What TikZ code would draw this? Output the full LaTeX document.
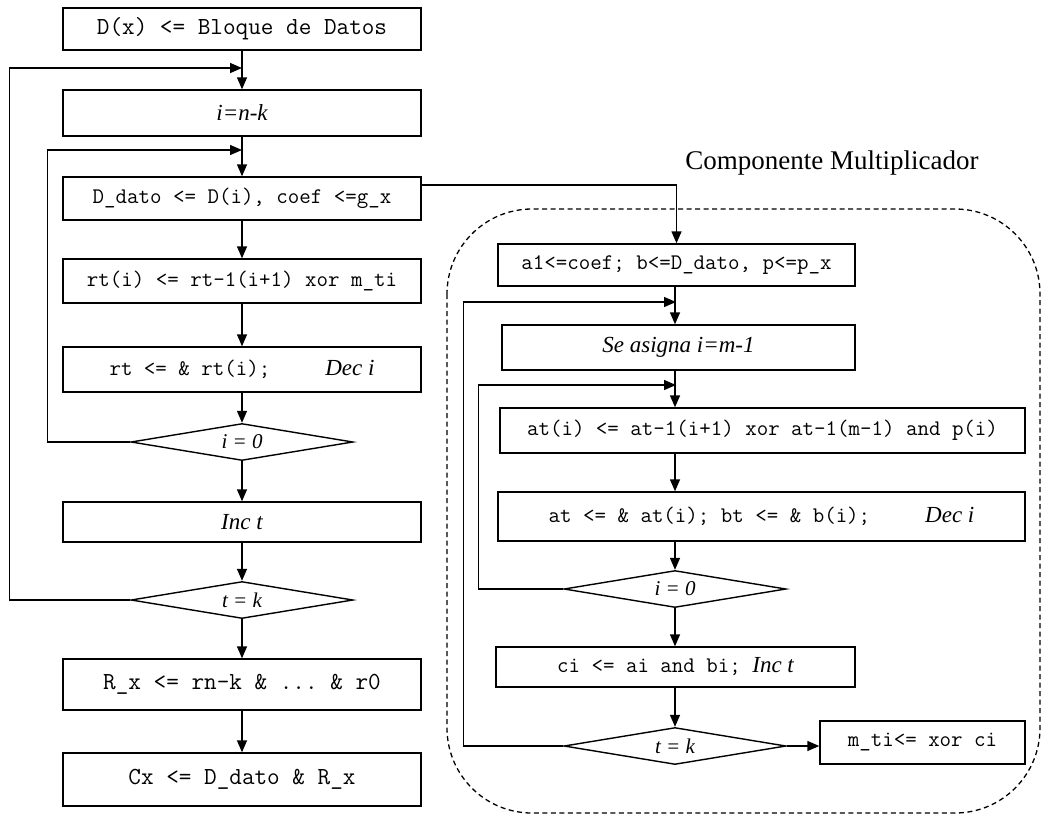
\documentclass[tikz,border=0pt]{standalone}
\usepackage{fontspec}
\setmainfont{Liberation Serif}
\setmonofont{Latin Modern Mono}
\usetikzlibrary{shapes.geometric,arrows.meta}

\tikzset{
    caja/.style={draw, line width=1.4pt, inner sep=0pt, minimum width=358pt,
        font=\ttfamily\fontsize{22.3}{25}\selectfont},
    cajag/.style={caja, font=\ttfamily\fontsize{24.5}{27}\selectfont},
    decision/.style={draw, diamond, aspect=6, line width=1.4pt, inner sep=0pt,
        minimum width=222pt, minimum height=37pt, font=\itshape\fontsize{21}{23}\selectfont},
    flecha/.style={line width=1.4pt, -{Triangle[length=12pt,width=10pt]}}
}
\newcommand{\cur}[1]{{\rmfamily\itshape\fontsize{23}{25}\selectfont #1}}

\begin{document}
\begin{tikzpicture}[x=1pt, y=-1pt]
    \useasboundingbox (0,0) rectangle (1043,815);

    % columna izquierda
    \node[cajag, minimum height=42pt] (datos) at (242,29) {D(x) <= Bloque de Datos};
    \node[caja, minimum height=46pt] (inik) at (242,113) {\cur{i=n-k}};
    \node[caja, minimum height=43pt] (dato) at (242,198.5) {D\_dato <= D(i), coef <=g\_x};
    \node[caja, minimum height=44pt] (rti) at (242,281) {rt(i) <= rt-1(i+1) xor m\_ti};
    \node[caja, minimum height=45pt] (rtdec) at (242,369.5) {rt <= \& rt(i);\hspace{55pt}\cur{Dec i}};
    \node[decision] (ceroi) at (242,442) {i = 0};
    \node[caja, minimum height=40pt] (inct) at (242,522) {\cur{Inc t}};
    \node[decision] (tk) at (242,600) {t = k};
    \node[cajag, minimum height=51pt] (rx) at (242,684.5) {R\_x <= rn-k \& ... \& r0};
    \node[cajag, minimum height=53pt] (cx) at (242,779.5) {Cx <= D\_dato \& R\_x};

    \coordinate (j1) at (242,68);
    \coordinate (j2) at (242,150);

    \draw[flecha] (datos) -- (inik);
    \draw[flecha] (inik) -- (dato);
    \draw[flecha] (dato) -- (rti);
    \draw[flecha] (rti) -- (rtdec);
    \draw[flecha] (rtdec) -- (ceroi);
    \draw[flecha] (ceroi) -- (inct);
    \draw[flecha] (inct) -- (tk);
    \draw[flecha] (tk) -- (rx);
    \draw[flecha] (rx) -- (cx);

    % lazos
    \draw[flecha] (ceroi.west) -- ++(-83,0) |- (j2);
    \draw[flecha] (tk.west) -- ++(-121,0) |- (j1);

    % componente multiplicador
    \draw[line width=1.3pt, dash pattern=on 5pt off 3.5pt, rounded corners=85pt]
        (447,209) rectangle (1040,813);
    \node[font=\fontsize{27}{30}\selectfont] (titulo) at (832,163) {Componente Multiplicador};

    \node[caja, minimum width=357pt, minimum height=42pt] (carga) at (676.5,265) {a1<=coef; b<=D\_dato, p<=p\_x};
    \node[caja, minimum width=353pt, minimum height=45pt] (asigna) at (678.5,347.5) {\cur{Se asigna i=m-1}};
    \node[caja, minimum width=525pt, minimum height=45pt] (ati) at (762.5,430.5) {at(i) <= at-1(i+1) xor at-1(m-1) and p(i)};
    \node[caja, minimum width=527pt, minimum height=49pt] (atdec) at (761.5,516.5) {at <= \& at(i); bt <= \& b(i);\hspace{55pt}\cur{Dec i}};
    \node[decision] (ceroj) at (675,589) {i = 0};
    \node[caja, minimum width=359pt, minimum height=40pt] (ci) at (675.5,667) {ci <= ai and bi; \cur{Inc t}};
    \node[decision] (tkb) at (675,746) {t = k};
    \node[caja, minimum width=205pt, minimum height=43pt] (mti) at (922.5,742.5) {m\_ti<= xor ci};

    \coordinate (j3) at (676,302);
    \coordinate (j4) at (676,385);

    \draw[flecha] ([yshift=13.5pt]dato.east) -| (carga.north);
    \draw[flecha] (carga.south -| ceroj) -- (asigna.north -| ceroj);
    \draw[flecha] (asigna.south -| ceroj) -- (ati.north -| ceroj);
    \draw[flecha] (ati.south -| ceroj) -- (atdec.north -| ceroj);
    \draw[flecha] (atdec.south -| ceroj) -- (ceroj.north);
    \draw[flecha] (ceroj.south) -- (ci.north -| ceroj);
    \draw[flecha] (ci.south -| tkb) -- (tkb.north);
    \draw[flecha] (tkb.east) -- (tkb.east -| mti.west);

    % lazos
    \draw[flecha] (ceroj.west) -- ++(-85,0) |- (j4);
    \draw[flecha] (tkb.west) -- ++(-100,0) |- (j3);
\end{tikzpicture}
\end{document}
